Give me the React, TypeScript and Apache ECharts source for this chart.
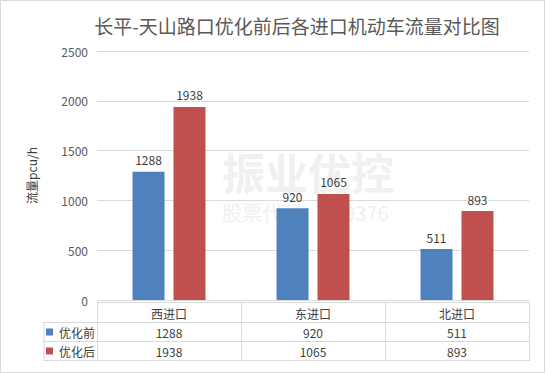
import React, { useEffect, useRef } from "react";
import * as echarts from "echarts";

const categories = ["西进口", "东进口", "北进口"];
const seriesNames = ["优化前", "优化后"];
const before = [1288, 920, 511];
const after = [1938, 1065, 893];
const colors = ["#4f81bd", "#c0504d"];
const titleText = "长平-天山路口优化前后各进口机动车流量对比图";
const yName = "流量pcu/h";
const watermark1 = "振业优控";
const watermark2 = "股票代码：839376";

export default function App() {
  const ref = useRef<HTMLDivElement>(null);
  useEffect(() => {
    if (!ref.current) return;
    const chart = echarts.init(ref.current, undefined, { renderer: "svg" });
    const W = 545;
    const H = 373;
    const left = 97;
    const right = 529;
    const tTop = 302;
    const rowH = [20, 19, 19];
    const legLeft = 43.5;
    const colW = (right - left) / categories.length;
    const lineColor = "#d9d9d9";
    const font = "'Noto Sans CJK SC', 'Noto Sans', sans-serif";
    const graphics: any[] = [];
    graphics.push({
      type: "rect",
      shape: { x: 0.5, y: 0.5, width: W - 1, height: H - 1 },
      style: { fill: "none", stroke: lineColor, lineWidth: 1 },
      silent: true,
    });
    graphics.push({
      type: "text",
      x: 222,
      y: 171,
      z: 0,
      style: {
        text: watermark1,
        font: `bold 43px ${font}`,
        fill: "#f0f0f0",
        textVerticalAlign: "middle",
      },
      silent: true,
    });
    graphics.push({
      type: "text",
      x: 222,
      y: 212,
      z: 0,
      style: {
        text: watermark2,
        font: `20px ${font}`,
        fill: "#f0f0f0",
        textVerticalAlign: "middle",
      },
      silent: true,
    });
    const y1 = tTop;
    const y2 = y1 + rowH[0];
    const y3 = y2 + rowH[1];
    const y4 = y3 + rowH[2];
    const hline = (x1: number, x2: number, y: number) =>
      graphics.push({
        type: "line",
        shape: { x1, y1: y + 0.5, x2, y2: y + 0.5 },
        style: { stroke: lineColor, lineWidth: 1 },
        silent: true,
      });
    const vline = (x: number, ya: number, yb: number) =>
      graphics.push({
        type: "line",
        shape: { x1: x + 0.5, y1: ya, x2: x + 0.5, y2: yb },
        style: { stroke: lineColor, lineWidth: 1 },
        silent: true,
      });
    hline(left, right, y1);
    hline(legLeft, right, y2);
    hline(legLeft, right, y3);
    hline(legLeft, right, y4);
    vline(legLeft, y2, y4 + 1);
    for (let i = 0; i <= categories.length; i++) {
      vline(left + colW * i, y1, y4 + 1);
    }
    const txt = (text: string, x: number, y: number, align = "center") =>
      graphics.push({
        type: "text",
        x,
        y,
        style: {
          text,
          font: `12px ${font}`,
          fill: "#404040",
          textAlign: align,
          textVerticalAlign: "middle",
        },
        silent: true,
      });
    categories.forEach((c, i) => {
      const cx = left + colW * (i + 0.5);
      txt(c, cx, (y1 + y2) / 2 + 1);
      txt(String(before[i]), cx, (y2 + y3) / 2 + 1);
      txt(String(after[i]), cx, (y3 + y4) / 2 + 1);
    });
    const rowsY = [(y2 + y3) / 2, (y3 + y4) / 2];
    seriesNames.forEach((n, i) => {
      graphics.push({
        type: "rect",
        shape: { x: 46, y: rowsY[i] - 3, width: 7, height: 7 },
        style: { fill: colors[i] },
        silent: true,
      });
      txt(n, 59, rowsY[i] + 1, "left");
    });

    const barLabel = {
      show: true,
      position: "top",
      distance: 6,
      fontFamily: font,
      fontSize: 12,
      color: "#404040",
    };

    chart.setOption({
      animation: false,
      backgroundColor: "#ffffff",
      title: {
        text: titleText,
        left: 292,
        top: 11,
        textAlign: "center",
        textStyle: {
          fontFamily: font,
          fontSize: 19,
          fontWeight: "normal",
          color: "#595959",
        },
      },
      grid: { left: left, right: W - right, top: 51, bottom: H - 300 },
      xAxis: {
        type: "category",
        data: categories,
        axisLine: { show: false },
        axisTick: { show: false },
        axisLabel: { show: false },
      },
      yAxis: {
        type: "value",
        min: 0,
        max: 2500,
        interval: 500,
        name: yName,
        nameLocation: "middle",
        nameGap: 60,
        nameRotate: 90,
        nameTextStyle: { fontFamily: font, fontSize: 12, color: "#404040" },
        axisLine: { show: false },
        axisTick: { show: false },
        axisLabel: {
          fontFamily: font,
          fontSize: 12,
          color: "#595959",
          margin: 9,
          formatter: (v: number) => String(v),
        },
        splitLine: { lineStyle: { color: lineColor, width: 1 } },
      },
      series: [
        {
          name: seriesNames[0],
          type: "bar",
          data: before,
          barWidth: 32,
          barGap: "28%",
          itemStyle: { color: colors[0] },
          z: 3,
          label: barLabel,
        },
        {
          name: seriesNames[1],
          type: "bar",
          data: after,
          barWidth: 32,
          barGap: "28%",
          itemStyle: { color: colors[1] },
          z: 3,
          label: barLabel,
        },
      ],
      graphic: graphics,
    });
    return () => chart.dispose();
  }, []);
  return (
    <div
      ref={ref}
      style={{ position: "fixed", left: 0, top: 0, width: 545, height: 373 }}
    />
  );
}
